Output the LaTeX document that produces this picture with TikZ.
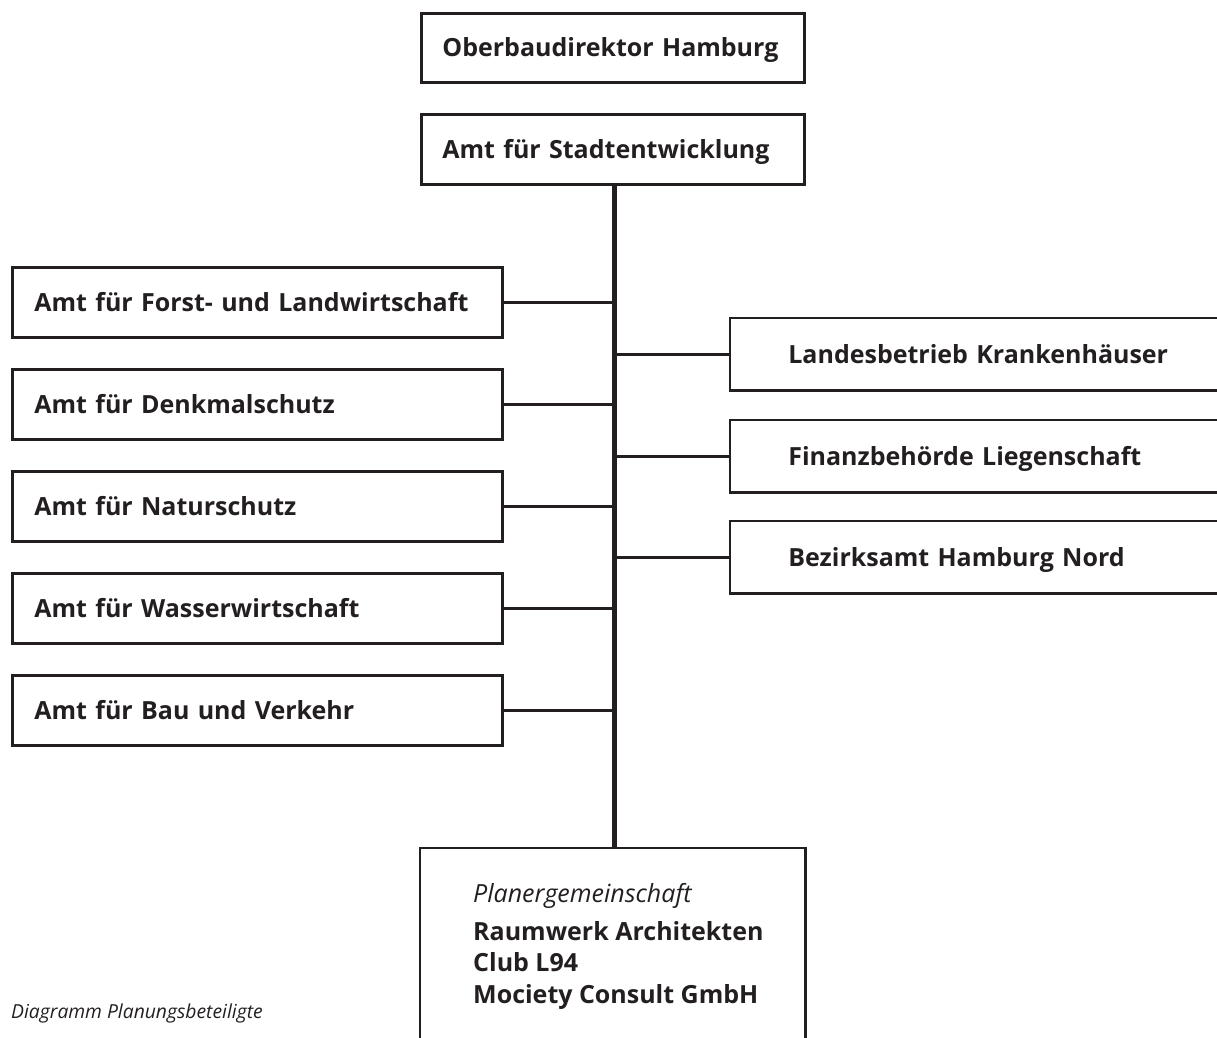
\documentclass[tikz,border=0pt]{standalone}
\usepackage{fontspec}
\setmainfont{Open Sans}
\definecolor{ink}{HTML}{231F20}
\hbadness=10000 \hfuzz=200pt
\begin{document}
\begin{tikzpicture}[x=1pt,y=-1pt,
  box/.style={draw=ink, line width=2.7pt, anchor=north west, inner ysep=0pt,
    font=\fontsize{25}{30}\selectfont\bfseries, text=ink, align=left,
    text height=20pt, text depth=2pt},
  openbox/.style={box, draw=none},
  frame/.style={draw=ink, line width=2.7pt},
  conn/.style={draw=ink, line width=2.7pt},
  spine/.style={draw=ink, line width=5pt},
  bodytext/.style={anchor=base west, inner sep=0pt, text=ink, font=\fontsize{25}{30}\selectfont\bfseries},
  ittext/.style={anchor=base west, inner sep=0pt, text=ink, font=\fontsize{25}{30}\selectfont\itshape},
  caption/.style={anchor=base west, inner sep=0pt, text=ink, font=\fontsize{19.3}{23}\selectfont\itshape}]
\useasboundingbox (0,0) rectangle (1217,1037);

% top boxes
\node[box, minimum width=383pt, minimum height=69pt, inner xsep=21pt, text width=341pt] (ober) at (420,12) {Oberbaudirektor Hamburg};
\node[box, minimum width=383pt, minimum height=70pt, inner xsep=21pt, text width=341pt] (amt) at (420,113) {Amt für Stadtentwicklung};

% left boxes
\foreach \n/\y/\t in {forst/266/{Amt für Forst- und Landwirtschaft},
                      denk/368/{Amt für Denkmalschutz},
                      natur/470/{Amt für Naturschutz},
                      wasser/572/{Amt für Wasserwirtschaft},
                      bau/674/{Amt für Bau und Verkehr}}{
  \node[box, minimum width=490pt, minimum height=70pt, inner xsep=22pt, text width=446pt] (\n) at (11,\y) {\mbox{\t}};
}

% right boxes (open to the right edge)
\foreach \n/\y/\t in {kh/318/{Landesbetrieb Krankenhäuser},
                      fin/420/{Finanzbehörde Liegenschaft},
                      bez/521/{Bezirksamt Hamburg Nord}}{
  \node[openbox, minimum width=487pt, minimum height=70pt, inner xsep=57pt, text width=373pt] (\n) at (730,\y) {\mbox{\t}};
  \draw[frame] (\n.north east) -- (\n.north west) -- (\n.south west) -- (\n.south east);
}

% bottom box (open at the bottom)
\node[openbox, minimum width=383pt, minimum height=189pt, inner xsep=0pt, text width=383pt] (pg) at (420,848) {};
\draw[frame] (pg.south west) -- (pg.north west) -- (pg.north east) -- (pg.south east);
\node[ittext] (pgl1) at (473,902) {Planergemeinschaft};
\node[bodytext] (pgl2) at (473,940) {Raumwerk Architekten};
\node[bodytext] (pgl3) at (473,971) {Club L94};
\node[bodytext] (pgl4) at (473,1003) {Mociety Consult GmbH};

% spine
\coordinate (sp) at ([xshift=1.5pt]amt.south);
\draw[spine] (sp) -- (sp |- pg.north);

% branches
\foreach \n in {forst,denk,natur,wasser,bau}{
  \draw[conn] (\n.east) -- (\n.east -| sp);
}
\foreach \n in {kh,fin,bez}{
  \draw[conn] (\n.west) -- (\n.west -| sp);
}

\node[caption] (cap) at (11,1018) {Diagramm Planungsbeteiligte};
\end{tikzpicture}
\end{document}
